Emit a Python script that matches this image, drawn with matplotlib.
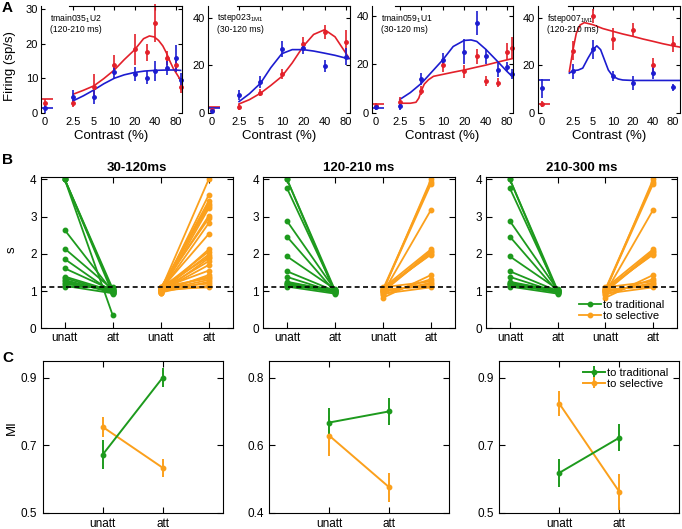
import matplotlib
matplotlib.use("Agg")
import matplotlib.pyplot as plt
from matplotlib.ticker import NullLocator

plt.rcParams['font.family'] = ['Liberation Sans', 'DejaVu Sans']
plt.rcParams['mathtext.default'] = 'regular'

W, H = 682, 529
RED = '#e3202a'
BLUE = '#1c1cd0'
GREEN = '#1d9a1d'
ORANGE = '#fba01c'

# ---------------- panel A data ----------------
# cell 1: tmain035 1U2 (120-210 ms)
a1_con = [2.5, 5, 10, 20, 30, 40, 60, 80, 95]
a1_red = [2.8, 7.4, 13.9, 18.4, 17.6, 26.0, 15.8, 13.9, 7.4]
a1_red_err = [1.0, 3.7, 3.0, 4.4, 2.5, 5.5, 2.0, 2.0, 1.8]
a1_blue = [4.7, 4.5, 11.9, 11.3, 10.2, 12.1, 12.9, 15.8, 9.5]
a1_blue_err = [2.0, 2.0, 2.2, 2.0, 2.0, 3.0, 2.0, 4.0, 2.0]
a1_zero = [2.9, 1.3]          # red, blue at contrast 0
a1_zero_err = [1.2, 1.5]
a1_base = [3.9, 1.5]          # fit value at 0
a1_red_fit_c = [2.5, 3.5, 5, 7, 10, 14, 20, 27, 33, 39, 45, 52, 59, 66, 74, 85, 95]
a1_red_fit = [5.4, 6.5, 7.8, 9.9, 12.4, 15.4, 18.3, 21.5, 22.3, 22.0, 21.0, 19.4, 17.3, 15.0, 12.9, 11.0, 9.5]
a1_blue_fit_c = [2.5, 3.5, 5, 7, 10, 14, 20, 28, 40, 60, 80, 95]
a1_blue_fit = [3.5, 4.9, 6.6, 8.4, 10.0, 11.0, 11.7, 12.1, 12.3, 12.4, 12.4, 12.3]

# cell 2: tstep023 1M1 (30-120 ms)
a2_con = [2.5, 5, 10, 20, 40, 80]
a2_red = [2.5, 8.5, 16.4, 29.0, 33.9, 29.7]
a2_red_err = [1.2, 1.5, 2.0, 3.0, 3.0, 5.0]
a2_blue = [7.5, 13.1, 26.8, 27.3, 19.8, 23.7]
a2_blue_err = [2.0, 2.5, 3.5, 2.5, 2.5, 3.5]
a2_zero = [1.0, 0.8]
a2_zero_err = [0.8, 0.8]
a2_base = [2.3, 1.8]
a2_red_fit_c = [2.5, 3.5, 5, 7, 10, 14, 20, 28, 40, 56, 80, 88]
a2_red_fit = [3.7, 5.5, 8.2, 11.5, 15.3, 21.0, 28.0, 33.0, 35.0, 32.0, 25.0, 23.0]
a2_blue_fit_c = [2.5, 3.5, 5, 7, 10, 14, 20, 28, 40, 56, 80, 88]
a2_blue_fit = [4.7, 8.0, 12.4, 19.0, 24.9, 26.6, 26.6, 26.0, 25.1, 24.2, 23.0, 22.8]

# cell 3: tmain059 1U1 (30-120 ms)
a3_con = [2.5, 5, 10, 20, 30, 40, 60, 80, 95]
a3_red = [4.6, 9.1, 19.7, 17.0, 23.2, 13.2, 12.4, 25.2, 26.6]
a3_red_err = [2.0, 2.0, 3.0, 2.5, 3.0, 2.0, 2.0, 3.5, 4.5]
a3_blue = [2.8, 13.9, 21.8, 25.2, 37.0, 23.2, 17.7, 19.0, 16.0]
a3_blue_err = [1.5, 2.5, 3.0, 5.0, 5.0, 3.0, 3.0, 2.0, 2.0]
a3_zero = [2.8, 2.2]
a3_zero_err = [1.0, 1.0]
a3_base = [3.6, 2.0]
a3_red_fit_c = [2.5, 3.5, 4.2, 4.6, 5.0, 5.5, 6.3, 7.4, 10, 14, 20, 28, 40, 56, 80, 95]
a3_red_fit = [3.9, 3.9, 4.3, 6.0, 9.1, 11.8, 13.6, 15.0, 15.8, 16.7, 17.6, 18.6, 19.6, 20.7, 21.8, 22.3]
a3_blue_fit_c = [2.5, 3.5, 5, 7, 10, 14, 20, 25, 30, 40, 56, 80, 95]
a3_blue_fit = [5.5, 8.3, 12.1, 16.8, 21.8, 27.3, 29.8, 30.0, 29.4, 26.2, 21.8, 17.0, 14.9]

# cell 4: fstep007 1M1 (120-210 ms)
a4_con = [2.5, 5, 10, 20, 40, 80]
a4_red = [26.1, 40.7, 31.1, 35.0, 20.2, 29.0]
a4_red_err = [4.0, 3.0, 4.5, 3.0, 3.0, 3.5]
a4_blue = [17.4, 26.8, 15.5, 12.4, 16.7, 10.7]
a4_blue_err = [3.0, 4.0, 2.0, 3.0, 2.5, 1.5]
a4_zero = [3.8, 10.3]
a4_zero_err = [1.2, 4.0]
a4_base = [3.7, 13.8]
a4_red_fit_c = [2.2, 2.5, 2.8, 3.2, 3.7, 5, 7, 10, 14, 20, 28, 40, 56, 80, 100]
a4_red_fit = [17.4, 26.6, 33.5, 37.0, 38.0, 37.1, 35.5, 34.3, 33.2, 32.2, 31.1, 30.1, 29.1, 28.2, 27.7]
a4_blue_fit_c = [2.2, 2.5, 3.0, 3.5, 4.2, 5.0, 5.7, 6.5, 7.5, 8.5, 10, 12, 14, 20, 40, 100]
a4_blue_fit = [16.7, 17.7, 18.0, 18.8, 23.0, 26.6, 28.2, 26.6, 22.0, 18.0, 15.3, 14.2, 13.8, 13.6, 13.6, 13.6]

a_names = [r'tmain035$_{1}$U2', r'tstep023$_{1M1}$', r'tmain059$_{1}$U1', r'fstep007$_{1M1}$']
a_windows = ['(120-210 ms)', '(30-120 ms)', '(30-120 ms)', '(120-210 ms)']
con_ticks = [2.5, 5, 10, 20, 40, 80]
con_labels = ['2.5', '5', '10', '20', '40', '80']

# ---------------- panel B data ----------------
b_windows = ['30-120ms', '120-210 ms', '210-300 ms']
b_xlabels = ['unatt', 'att', 'unatt', 'att']

b1_trad_unatt = [4.0, 4.0, 4.0, 4.0, 2.64, 2.14, 1.86, 1.61, 1.39, 1.35, 1.30, 1.26, 1.22, 1.18, 1.14, 1.12]
b1_trad_att = [0.35, 0.93, 1.0, 1.06, 0.98, 1.04, 0.96, 1.02, 1.0, 0.97, 0.95, 0.99, 1.03, 1.08, 0.94, 1.1]
b1_sel_unatt = [1.02, 0.98, 1.05, 1.0, 1.08, 0.96, 1.03, 1.1, 0.99, 1.04, 0.97, 1.06, 1.01,
                1.09, 0.95, 1.03, 1.0, 1.07, 0.98, 1.05, 1.11, 1.02, 0.96, 1.08, 1.0, 1.04]
b1_sel_att = [4.0, 3.58, 3.42, 3.35, 3.28, 3.22, 3.02, 2.95, 2.82, 2.53, 2.12, 2.06, 1.98,
              1.92, 1.88, 1.8, 1.7, 1.55, 1.43, 1.38, 1.34, 1.3, 1.25, 1.2, 1.14, 1.1]

b2_trad_unatt = [4.0, 4.0, 3.76, 2.88, 2.46, 1.93, 1.53, 1.38, 1.25, 1.22, 1.2, 1.18, 1.15, 1.12]
b2_trad_att = [1.02, 0.95, 1.0, 1.03, 0.98, 1.05, 1.0, 0.97, 1.0, 1.02, 0.98, 0.96, 1.01, 0.93]
b2_sel_unatt = [1.0, 1.05, 1.02, 0.95, 1.08, 1.0, 0.98, 1.03, 1.06, 0.82, 0.9, 1.1, 0.97, 1.0, 1.04, 0.93]
b2_sel_att = [4.0, 3.94, 3.88, 3.18, 2.12, 2.08, 2.04, 2.0, 1.98, 1.43, 1.32, 1.26, 1.22, 1.18, 1.13, 1.1]

# the third window looks the same as the second one in the figure
b3_trad_unatt = b2_trad_unatt
b3_trad_att = b2_trad_att
b3_sel_unatt = b2_sel_unatt
b3_sel_att = b2_sel_att
s_threshold = 1.1

# ---------------- panel C data ----------------
c_xlabels = ['unatt', 'att']
c1_trad = [0.672, 0.900]
c1_trad_err = [0.043, 0.028]
c1_sel = [0.754, 0.633]
c1_sel_err = [0.030, 0.026]
c2_trad = [0.667, 0.700]
c2_trad_err = [0.042, 0.041]
c2_sel = [0.628, 0.475]
c2_sel_err = [0.059, 0.044]
c3_trad = [0.618, 0.722]
c3_trad_err = [0.042, 0.040]
c3_sel = [0.823, 0.562]
c3_sel_err = [0.037, 0.053]


fig = plt.figure(figsize=(W / 100, H / 100), dpi=100)


def px_axes(x0, y0, x1, y1):
    return fig.add_axes([x0 / W, 1 - y1 / H, (x1 - x0) / W, (y1 - y0) / H])


def fig_text(x, y, s, **kw):
    fig.text(x / W, 1 - y / H, s, **kw)


# ---------------- A ----------------
a_cells = [
    (a1_con, a1_red, a1_red_err, a1_blue, a1_blue_err, a1_zero, a1_zero_err, a1_base,
     a1_red_fit_c, a1_red_fit, a1_blue_fit_c, a1_blue_fit),
    (a2_con, a2_red, a2_red_err, a2_blue, a2_blue_err, a2_zero, a2_zero_err, a2_base,
     a2_red_fit_c, a2_red_fit, a2_blue_fit_c, a2_blue_fit),
    (a3_con, a3_red, a3_red_err, a3_blue, a3_blue_err, a3_zero, a3_zero_err, a3_base,
     a3_red_fit_c, a3_red_fit, a3_blue_fit_c, a3_blue_fit),
    (a4_con, a4_red, a4_red_err, a4_blue, a4_blue_err, a4_zero, a4_zero_err, a4_base,
     a4_red_fit_c, a4_red_fit, a4_blue_fit_c, a4_blue_fit),
]
small_boxes = [(41, 6, 53, 112.7), (208, 6, 220, 112.7), (372, 6, 384, 112.7), (538, 6, 550, 112.7)]
main_boxes = [(69, 6, 182, 112.7), (237, 6, 350, 112.7), (395, 6, 513, 112.7), (568, 6, 680, 112.7)]
a_xlims = [(2.15, 99.7), (2.34, 91), (2.13, 97), (2.1, 102)]
a_ylims = [(0, 31), (0, 45), (0, 44), (0, 45)]
a_yticks = [[0, 10, 20, 30], [0, 20, 40], [0, 20, 40], [0, 20, 40]]

for i, cell in enumerate(a_cells):
    (con, red, red_err, blue, blue_err, zero, zero_err, base,
     rfc, rf, bfc, bf) = cell
    ax0 = px_axes(*small_boxes[i])
    ax1 = px_axes(*main_boxes[i])

    ax0.hlines(base, -0.5, 1.0, colors=[RED, BLUE], lw=1.2)
    ax0.errorbar([0], [zero[0]], yerr=[zero_err[0]], fmt='o', color=RED, ms=2.5, lw=1.2, clip_on=False)
    ax0.errorbar([0], [zero[1]], yerr=[zero_err[1]], fmt='o', color=BLUE, ms=2.5, lw=1.2, clip_on=False)
    ax0.set_xlim(-0.5, 1.0)
    ax0.set_ylim(*a_ylims[i])
    ax0.set_xticks([0])
    ax0.set_xticklabels(['0'])
    ax0.set_yticks(a_yticks[i])
    for s in ['top', 'right', 'bottom']:
        ax0.spines[s].set_visible(False)
    ax0.spines['left'].set_linewidth(0.8)
    ax0.tick_params(axis='y', direction='in', length=3, width=0.8, labelsize=8, pad=2)
    ax0.tick_params(axis='x', length=0, labelsize=8, pad=3)
    ax0.patch.set_alpha(0)

    ax1.plot(rfc, rf, color=RED, lw=1.2)
    ax1.plot(bfc, bf, color=BLUE, lw=1.2)
    ax1.errorbar(con, red, yerr=red_err, fmt='o', color=RED, ms=2.5, lw=1.2, clip_on=False)
    ax1.errorbar(con, blue, yerr=blue_err, fmt='o', color=BLUE, ms=2.5, lw=1.2, clip_on=False)
    ax1.set_xscale('log', base=2)
    ax1.set_xlim(*a_xlims[i])
    ax1.set_ylim(*a_ylims[i])
    ax1.set_xticks(con_ticks)
    ax1.set_xticklabels(con_labels)
    ax1.xaxis.set_minor_locator(NullLocator())
    ax1.set_yticks(a_yticks[i])
    for s in ['left', 'bottom']:
        ax1.spines[s].set_visible(False)
    for s in ['top', 'right']:
        ax1.spines[s].set_linewidth(0.8)
    ax1.tick_params(axis='x', bottom=False, top=True, direction='in', length=3, width=0.8,
                    labelsize=8, pad=3)
    ax1.tick_params(axis='y', left=False, labelleft=False, right=True, direction='in',
                    length=3, width=0.8)
    ax1.patch.set_alpha(0)

    x_left = small_boxes[i][0]
    fig_text(x_left + 9, 18.5, a_names[i], fontsize=6.2, va='center', ha='left')
    fig_text(x_left + 9, 29.5, a_windows[i], fontsize=6.2, va='center', ha='left')
    fig_text((x_left + main_boxes[i][2]) / 2, 136.5, 'Contrast (%)', fontsize=9.5,
             ha='center', va='center')

fig_text(10, 66, 'Firing (sp/s)', fontsize=9.5, rotation=90, ha='center', va='center')
fig_text(2, 8, 'A', fontsize=11, fontweight='bold', ha='left', va='center')

# ---------------- B ----------------
b_cells = [
    (b1_trad_unatt, b1_trad_att, b1_sel_unatt, b1_sel_att),
    (b2_trad_unatt, b2_trad_att, b2_sel_unatt, b2_sel_att),
    (b3_trad_unatt, b3_trad_att, b3_sel_unatt, b3_sel_att),
]
b_boxes = [(40.7, 176.7, 232.7, 328.3), (263, 176.7, 455, 328.3), (486, 176.7, 677, 328.3)]
for j, (tu, ta, su, sa) in enumerate(b_cells):
    ax = px_axes(*b_boxes[j])
    for u, a in zip(tu, ta):
        ax.plot([1, 2], [u, a], '-o', color=GREEN, lw=1.3, ms=3.2)
    for u, a in zip(su, sa):
        ax.plot([3, 4], [u, a], '-o', color=ORANGE, lw=1.3, ms=3.2)
    ax.axhline(s_threshold, color='k', lw=1.2, ls=(0, (3, 2)))
    ax.set_xlim(0.5, 4.5)
    ax.set_ylim(0, 4.07)
    ax.set_xticks([1, 2, 3, 4])
    ax.set_xticklabels(b_xlabels)
    ax.set_yticks([0, 1, 2, 3, 4])
    ax.tick_params(direction='in', top=True, right=True, length=4, width=0.8, labelsize=8.5, pad=3)
    for s in ax.spines.values():
        s.set_linewidth(0.8)
    ax.set_title(b_windows[j], fontsize=9.5, fontweight='bold', pad=4)
    if j == 2:
        ax.plot([], [], '-o', color=GREEN, lw=1.3, ms=3.2, label='to traditional')
        ax.plot([], [], '-o', color=ORANGE, lw=1.3, ms=3.2, label='to selective')
        ax.legend(loc='upper left', bbox_to_anchor=(579 / W, 1 - 299.5 / H),
                  bbox_transform=fig.transFigure, frameon=False, fontsize=8,
                  borderpad=0, handlelength=2.0, handletextpad=0.15, labelspacing=0.1,
                  borderaxespad=0)

fig_text(12, 250, 's', fontsize=9.5, rotation=90, ha='center', va='center')
fig_text(2, 160, 'B', fontsize=11, fontweight='bold', ha='left', va='center')

# ---------------- C ----------------
c_cells = [
    (c1_trad, c1_trad_err, c1_sel, c1_sel_err),
    (c2_trad, c2_trad_err, c2_sel, c2_sel_err),
    (c3_trad, c3_trad_err, c3_sel, c3_sel_err),
]
c_boxes = [(42.7, 360.7, 222.7, 512.7), (269.3, 360.7, 449.3, 512.7), (499.3, 360.7, 679.3, 512.7)]
c_ylims = [(0.5, 0.95), (0.4, 0.85), (0.5, 0.95)]
c_yticks = [[0.5, 0.7, 0.9], [0.4, 0.6, 0.8], [0.5, 0.7, 0.9]]
for k, (tr, tre, se, see) in enumerate(c_cells):
    ax = px_axes(*c_boxes[k])
    ax.errorbar([1, 2], se, yerr=see, fmt='-o', color=ORANGE, lw=1.4, ms=3.2, label='to selective')
    ax.errorbar([1, 2], tr, yerr=tre, fmt='-o', color=GREEN, lw=1.4, ms=3.2, label='to traditional')
    ax.set_xlim(0, 3)
    ax.set_ylim(*c_ylims[k])
    ax.set_xticks([1, 2])
    ax.set_xticklabels(c_xlabels)
    ax.set_yticks(c_yticks[k])
    ax.set_yticklabels(['%.1f' % v for v in c_yticks[k]])
    ax.tick_params(direction='in', top=True, right=True, length=4, width=0.8, labelsize=8.5, pad=4)
    for s in ax.spines.values():
        s.set_linewidth(0.8)
    if k == 2:
        hs, ls = ax.get_legend_handles_labels()
        ax.legend(hs[::-1], ls[::-1], loc='upper left', bbox_to_anchor=(583 / W, 1 - 367.5 / H),
                  bbox_transform=fig.transFigure, frameon=False, fontsize=8,
                  borderpad=0, handlelength=2.0, handletextpad=0.15, labelspacing=0.1,
                  borderaxespad=0)

fig_text(12, 428, 'MI', fontsize=9.5, rotation=90, ha='center', va='center')
fig_text(2, 358, 'C', fontsize=11, fontweight='bold', ha='left', va='center')

fig.savefig('out.png', dpi=100)
